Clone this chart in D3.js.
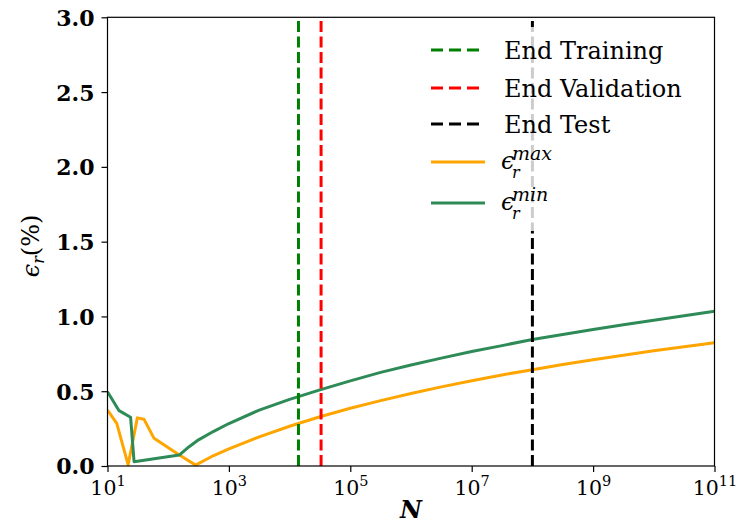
<!DOCTYPE html>
<html>
<head>
<meta charset="utf-8">
<script src="https://cdn.jsdelivr.net/npm/d3@7"></script>
<style>
  body { margin: 0; background: #fff; }
  text { font-family: "DejaVu Serif", serif; fill: #000; }
</style>
</head>
<body>
<svg id="chart" width="754" height="524"></svg>
<script>
// Relative error vs. number of samples N
const maxN   = [10, 14.2, 21.9, 31, 40, 58.5, 142, 282, 562, 1e3, 3.16e3, 1e4, 3.16e4, 1e5, 3.16e5, 1e6, 3.16e6, 1e7, 3.16e7, 1e8, 3.16e8, 1e9, 3.16e9, 1e10, 3.16e10, 1e11];
const maxErr = [0.374, 0.285, 0.008, 0.322, 0.312, 0.185, 0.082, 0.006, 0.070, 0.114, 0.195, 0.266, 0.329, 0.386, 0.437, 0.485, 0.529, 0.570, 0.609, 0.644, 0.678, 0.710, 0.741, 0.770, 0.797, 0.824];

const minN   = [10, 15.5, 24, 27.4, 152, 221, 316, 562, 1e3, 3.16e3, 1e4, 3.16e4, 1e5, 3.16e5, 1e6, 3.16e6, 1e7, 3.16e7, 1e8, 3.16e8, 1e9, 3.16e9, 1e10, 3.16e10, 1e11];
const minErr = [0.497, 0.370, 0.326, 0.029, 0.073, 0.129, 0.175, 0.232, 0.284, 0.374, 0.445, 0.509, 0.569, 0.626, 0.675, 0.721, 0.765, 0.805, 0.846, 0.879, 0.912, 0.944, 0.975, 1.004, 1.034];

// End of each data split
const splitNames  = ["End Training", "End Validation", "End Test"];
const splitN      = [1.4e4, 3.3e4, 1e8];
const splitColors = ["#008000", "#ff0000", "#000000"];

const xTicks = [1e1, 1e3, 1e5, 1e7, 1e9, 1e11];
const yTicks = [0, 0.5, 1.0, 1.5, 2.0, 2.5, 3.0];

const plot = { left: 107.5, right: 714.5, top: 17.3, bottom: 466 };

const svg = d3.select("#chart");

const x = d3.scaleLog().domain([1e1, 1e11]).range([plot.left, plot.right]);
const y = d3.scaleLinear().domain([0, 3]).range([plot.bottom, plot.top]);

svg.append("defs").append("clipPath").attr("id", "plot-clip")
  .append("rect")
  .attr("x", plot.left).attr("y", plot.top)
  .attr("width", plot.right - plot.left).attr("height", plot.bottom - plot.top);

const area = svg.append("g").attr("clip-path", "url(#plot-clip)");

// error curves
const line = d3.line().x(d => x(d[0])).y(d => y(d[1]));
const curves = [
  { n: maxN, v: maxErr, color: "#ffa500" },
  { n: minN, v: minErr, color: "#2e8b57" }
];
curves.forEach(c => {
  area.append("path")
    .datum(c.n.map((n, i) => [n, c.v[i]]))
    .attr("d", line)
    .attr("fill", "none")
    .attr("stroke", c.color)
    .attr("stroke-width", 3)
    .attr("stroke-linejoin", "round");
});

// vertical split markers
splitN.forEach((n, i) => {
  area.append("line")
    .attr("x1", x(n)).attr("x2", x(n))
    .attr("y1", plot.bottom).attr("y2", plot.top)
    .attr("stroke", splitColors[i])
    .attr("stroke-width", 3)
    .attr("stroke-dasharray", "11,4.5");
});

// axes
const yAxis = d3.axisLeft(y).tickValues(yTicks).tickFormat(d3.format(".1f"))
  .tickSize(6).tickPadding(7);
const gy = svg.append("g").attr("transform", `translate(${plot.left},0)`).call(yAxis);
gy.select(".domain").remove();
gy.selectAll(".tick line").attr("stroke", "#000").attr("stroke-width", 1.2);
gy.selectAll(".tick text")
  .style("font-family", "'DejaVu Serif', serif")
  .style("font-weight", "bold")
  .style("font-size", "22px")
  .attr("dy", "0.36em");

const xAxis = d3.axisBottom(x).tickValues(xTicks).tickFormat(() => "").tickSize(6);
const gx = svg.append("g").attr("transform", `translate(0,${plot.bottom})`).call(xAxis);
gx.select(".domain").remove();
gx.selectAll(".tick line").attr("stroke", "#000").attr("stroke-width", 1.2);
gx.selectAll(".tick text").each(function (d) {
  const t = d3.select(this)
    .text(null)
    .attr("y", 29).attr("dy", 0)
    .attr("text-anchor", "middle")
    .style("font-family", "'DejaVu Serif', serif")
    .style("font-size", "20.5px");
  t.append("tspan").text("10");
  t.append("tspan").attr("dy", -9).style("font-size", "14.5px")
    .text(Math.round(Math.log10(d)));
});

// frame
svg.append("rect")
  .attr("x", plot.left).attr("y", plot.top)
  .attr("width", plot.right - plot.left).attr("height", plot.bottom - plot.top)
  .attr("fill", "none").attr("stroke", "#000").attr("stroke-width", 1.2);

// axis titles
svg.append("text")
  .attr("x", 411).attr("y", 518)
  .attr("text-anchor", "middle")
  .style("font-size", "24px").style("font-weight", "bold").style("font-style", "italic")
  .text("N");

const yl = svg.append("text")
  .attr("transform", "translate(39,246) rotate(-90)")
  .attr("text-anchor", "middle")
  .style("font-size", "24px");
yl.append("tspan").style("font-style", "italic").text("ϵ");
yl.append("tspan").style("font-style", "italic").style("font-size", "16px").attr("dy", 5).text("r");
yl.append("tspan").attr("dy", -5).text("(%)");

// legend
const lg = svg.append("g");
lg.append("rect")
  .attr("x", 421).attr("y", 27).attr("width", 283).attr("height", 204)
  .attr("rx", 4)
  .attr("fill", "#fff").attr("fill-opacity", 0.8);

const rowY = [50, 88, 124, 162, 203];
splitNames.forEach((name, i) => {
  lg.append("line")
    .attr("x1", 431).attr("x2", 485).attr("y1", rowY[i]).attr("y2", rowY[i])
    .attr("stroke", splitColors[i]).attr("stroke-width", 3)
    .attr("stroke-dasharray", "12,6");
  lg.append("text")
    .attr("x", 504).attr("y", rowY[i] + 8.5)
    .style("font-size", "24px")
    .text(name);
});

// math labels: epsilon with superscript max/min stacked over subscript r
const errLabels = ["max", "min"];
curves.forEach((c, k) => {
  const yy = rowY[3 + k];
  lg.append("line")
    .attr("x1", 431).attr("x2", 485).attr("y1", yy).attr("y2", yy)
    .attr("stroke", c.color).attr("stroke-width", 3);
  const t = lg.append("text")
    .attr("x", 501).attr("y", yy + 7)
    .style("font-size", "24px").style("font-style", "italic");
  t.append("tspan").text("ϵ");
  t.append("tspan").attr("x", 512).attr("dy", -9).style("font-size", "19px").text(errLabels[k]);
  t.append("tspan").attr("x", 512).attr("dy", 18).style("font-size", "16px").text("r");
});
</script>
</body>
</html>
